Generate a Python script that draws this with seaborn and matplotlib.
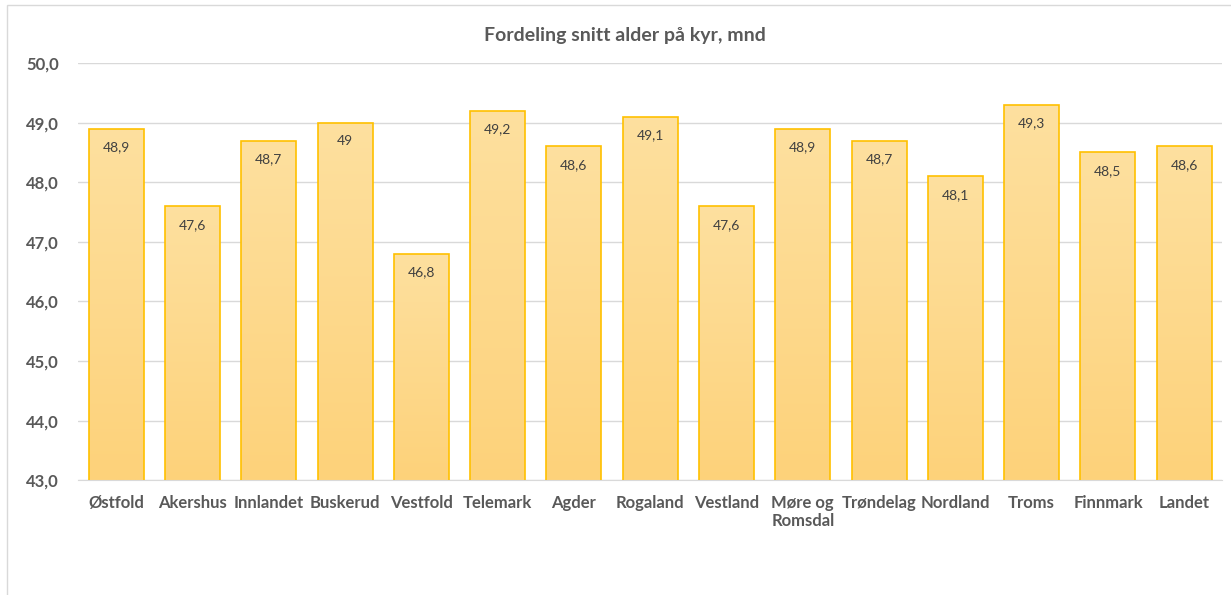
import numpy as np
import pandas as pd
import seaborn as sns
import matplotlib.pyplot as plt
from matplotlib.colors import LinearSegmentedColormap
from matplotlib.patches import Rectangle

fylker = ['Østfold', 'Akershus', 'Innlandet', 'Buskerud', 'Vestfold', 'Telemark', 'Agder',
          'Rogaland', 'Vestland', 'Møre og\nRomsdal', 'Trøndelag', 'Nordland', 'Troms',
          'Finnmark', 'Landet']
alder = [48.9, 47.6, 48.7, 49.0, 46.8, 49.2, 48.6, 49.1, 47.6, 48.9, 48.7, 48.1, 49.3, 48.5, 48.6]
etiketter = ['48,9', '47,6', '48,7', '49', '46,8', '49,2', '48,6', '49,1', '47,6', '48,9',
             '48,7', '48,1', '49,3', '48,5', '48,6']
yticks = [43, 44, 45, 46, 47, 48, 49, 50]

df = pd.DataFrame({'fylke': fylker, 'alder': alder})

sns.set_style('white')
plt.rcParams['font.family'] = ['Lato', 'DejaVu Sans']

fig = plt.figure(figsize=(12.31, 5.95), dpi=100)
ax = fig.add_axes([0.0634, 0.193, 0.9296, 0.701])

# chart area border
fig.patches.append(Rectangle((7 / 1231, -0.01), 1.02, 1 - 5 / 595 + 0.01, transform=fig.transFigure,
                             fill=False, edgecolor='#D9D9D9', linewidth=1, zorder=0))

sns.barplot(data=df, x='fylke', y='alder', color='#FDD78A', saturation=1, width=0.72, ax=ax,
            edgecolor='#FFC000', linewidth=1.2, zorder=3)

ax.set_ylim(43, 50)
ax.set_xlim(-0.5, len(fylker) - 0.5)

# gradient fill inside bars
cmap = LinearSegmentedColormap.from_list('grad', ['#FDD27A', '#FEE09F'])
grad = np.linspace(0, 1, 256).reshape(-1, 1)
for p in ax.patches:
    x0, w, h = p.get_x(), p.get_width(), p.get_height()
    p.set_facecolor('none')
    im = ax.imshow(grad, cmap=cmap, origin='lower', aspect='auto',
                   extent=[x0, x0 + w, 43, h], zorder=2.5)
    im.set_clip_path(p)
ax.set_xlim(-0.5, len(fylker) - 0.5)
ax.set_ylim(43, 50)

for i, (v, t) in enumerate(zip(alder, etiketter)):
    ax.annotate(t, (i, v), xytext=(0, -13.5), textcoords='offset points', ha='center',
                va='center', fontsize=10, color='#404040', zorder=5)

ax.set_yticks(yticks)
ax.set_yticklabels([f'{v:.1f}'.replace('.', ',') for v in yticks], fontsize=12,
                   fontweight='bold', color='#595959')
ax.set_xticks(range(len(fylker)))
ax.set_xticklabels(fylker, fontsize=12, fontweight='bold', color='#595959', linespacing=1.15)
ax.tick_params(axis='both', length=0)
ax.tick_params(axis='x', pad=11)
ax.tick_params(axis='y', pad=14)
ax.set_xlabel('')
ax.set_ylabel('')
ax.grid(axis='y', color='#D9D9D9', linewidth=1, zorder=0)
ax.set_axisbelow(True)
for s in ['top', 'right', 'left']:
    ax.spines[s].set_visible(False)
ax.spines['bottom'].set_color('#D9D9D9')

fig.text(0.508, 1 - 35 / 595, 'Fordeling snitt alder på kyr, mnd', ha='center', va='center',
         fontsize=14, fontweight='bold', color='#595959')

fig.savefig('out.png', dpi=100)
